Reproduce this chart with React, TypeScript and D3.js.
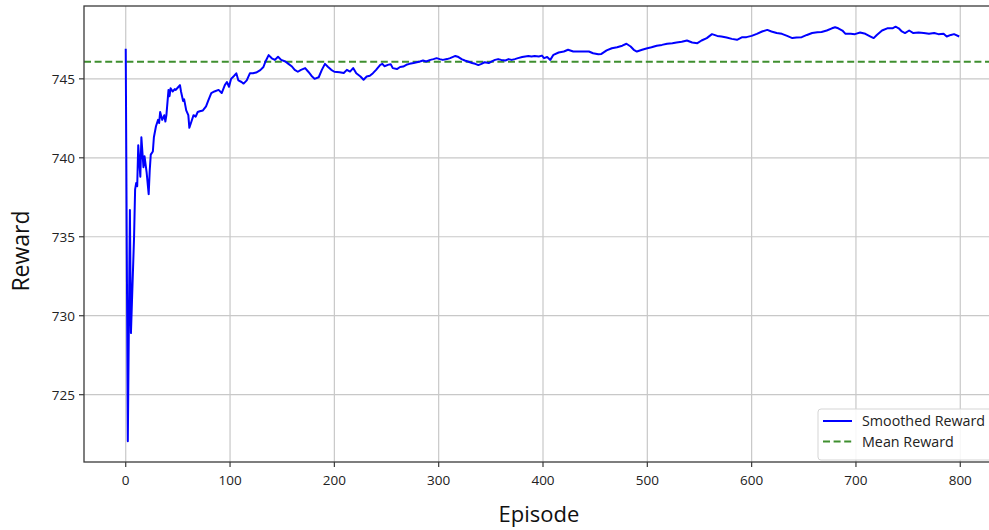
import React from "react";
import * as d3 from "d3";

const episodes = [0, 2, 4, 5, 8, 9, 10, 11, 12, 14, 15, 17, 18, 20, 22, 23, 24, 26, 27, 29, 31, 32, 33, 35, 37, 38, 39, 41, 42, 43, 45, 47, 48, 50, 52, 53, 55, 56, 58, 60, 61, 63, 65, 67, 69, 71, 74, 77, 79, 82, 85, 89, 92, 95, 97, 99, 101, 104, 106, 108, 111, 113, 116, 119, 122, 125, 129, 132, 134, 137, 140, 143, 146, 149, 153, 156, 159, 162, 165, 168, 172, 175, 178, 181, 185, 188, 191, 194, 197, 200, 205, 209, 212, 215, 218, 221, 225, 228, 231, 234, 237, 240, 244, 246, 248, 252, 254, 256, 260, 263, 266, 269, 272, 276, 279, 282, 285, 288, 292, 295, 298, 301, 304, 308, 311, 316, 319, 322, 325, 328, 332, 335, 338, 341, 344, 348, 351, 354, 357, 360, 364, 367, 370, 373, 376, 380, 383, 386, 389, 392, 396, 399, 401, 404, 407, 410, 415, 420, 424, 429, 434, 439, 444, 448, 453, 456, 461, 466, 471, 476, 480, 484, 487, 490, 495, 500, 504, 509, 514, 519, 524, 528, 533, 538, 543, 548, 552, 557, 562, 567, 571, 576, 581, 586, 591, 595, 600, 605, 610, 615, 619, 624, 629, 634, 639, 643, 648, 653, 658, 663, 667, 672, 677, 680, 683, 687, 690, 695, 699, 704, 709, 714, 717, 720, 725, 730, 735, 738, 741, 744, 747, 751, 755, 760, 765, 770, 775, 779, 784, 787, 791, 794, 799];

const smoothedReward = [746.9, 722.05, 736.7, 728.9, 735.0, 738.0, 738.4, 738.2, 740.8, 738.8, 741.3, 739.4, 740.1, 739.1, 737.7, 739.2, 740.2, 740.4, 741.3, 742.0, 742.4, 742.2, 742.9, 742.4, 742.7, 742.3, 742.7, 744.3, 743.9, 744.4, 744.2, 744.35, 744.3, 744.45, 744.6, 744.2, 743.6, 743.7, 743.0, 742.7, 741.9, 742.3, 742.7, 742.6, 742.9, 742.95, 743.0, 743.25, 743.6, 744.1, 744.2, 744.3, 744.1, 744.6, 744.8, 744.5, 745.0, 745.2, 745.35, 744.9, 744.8, 744.7, 744.9, 745.35, 745.35, 745.4, 745.55, 745.75, 746.1, 746.5, 746.3, 746.2, 746.4, 746.2, 746.1, 745.95, 745.8, 745.57, 745.45, 745.57, 745.68, 745.45, 745.2, 745.0, 745.1, 745.57, 745.95, 745.75, 745.57, 745.45, 745.42, 745.37, 745.57, 745.46, 745.68, 745.35, 745.15, 744.94, 745.15, 745.2, 745.36, 745.57, 745.89, 745.95, 745.8, 745.9, 745.93, 745.68, 745.62, 745.75, 745.78, 745.89, 745.95, 746.0, 746.05, 746.1, 746.16, 746.1, 746.2, 746.25, 746.31, 746.25, 746.2, 746.25, 746.31, 746.45, 746.38, 746.25, 746.16, 746.1, 746.0, 745.95, 745.87, 745.95, 746.05, 746.0, 746.1, 746.2, 746.25, 746.2, 746.16, 746.25, 746.2, 746.25, 746.31, 746.38, 746.42, 746.45, 746.42, 746.45, 746.42, 746.47, 746.31, 746.38, 746.2, 746.52, 746.67, 746.73, 746.84, 746.73, 746.73, 746.73, 746.73, 746.62, 746.56, 746.58, 746.8, 746.94, 747.0, 747.1, 747.22, 747.05, 746.84, 746.73, 746.84, 746.94, 747.0, 747.1, 747.15, 747.22, 747.26, 747.3, 747.35, 747.43, 747.3, 747.26, 747.43, 747.58, 747.83, 747.72, 747.68, 747.62, 747.53, 747.47, 747.64, 747.64, 747.72, 747.85, 748.0, 748.1, 748.0, 747.9, 747.85, 747.72, 747.58, 747.62, 747.64, 747.78, 747.9, 747.95, 747.97, 748.06, 748.2, 748.27, 748.2, 748.06, 747.85, 747.85, 747.83, 747.93, 747.85, 747.68, 747.58, 747.78, 748.06, 748.2, 748.2, 748.3, 748.2, 748.0, 747.9, 748.06, 747.9, 747.93, 747.9, 747.85, 747.9, 747.83, 747.85, 747.68, 747.78, 747.83, 747.68];

const meanReward = 746.08;
const xTicks = [0, 100, 200, 300, 400, 500, 600, 700, 800];
const yTicks = [725, 730, 735, 740, 745];
const legendLabels = ["Smoothed Reward", "Mean Reward"];

const W = 989;
const H = 530;
const left = 84;
const right = 1002;
const top = 6;
const bottom = 462;

export default function App() {
  const x = d3.scaleLinear().domain([-40, 840]).range([left, right]);
  const yMin = d3.min(smoothedReward)!;
  const yMax = d3.max(smoothedReward)!;
  const pad = (yMax - yMin) * 0.05;
  const y = d3.scaleLinear().domain([yMin - pad, yMax + pad]).range([bottom, top]);
  const pts = episodes.map((e, i) => [e, smoothedReward[i]] as [number, number]);
  const line = d3.line<[number, number]>().x((d) => x(d[0])).y((d) => y(d[1]));
  const font = "'Open Sans', 'DejaVu Sans', sans-serif";

  return (
    <svg width={W} height={H} style={{ position: "absolute", left: 0, top: 0, background: "#fff" }}>
      <rect x={0} y={0} width={W} height={H} fill="#fff" />
      {xTicks.map((t) => (
        <line key={"gx" + t} x1={x(t)} x2={x(t)} y1={top} y2={bottom} stroke="#c8c8c8" strokeWidth={1.2} />
      ))}
      {yTicks.map((t) => (
        <line key={"gy" + t} x1={left} x2={right} y1={y(t)} y2={y(t)} stroke="#c8c8c8" strokeWidth={1.2} />
      ))}
      <line x1={left} x2={right} y1={y(meanReward)} y2={y(meanReward)} stroke="#3f8f2f" strokeWidth={2} strokeDasharray="7,3.6" />
      <path d={line(pts) || ""} fill="none" stroke="#0000ff" strokeWidth={2} strokeLinejoin="round" />
      <rect x={left} y={top} width={right - left} height={bottom - top} fill="none" stroke="#3a3a3a" strokeWidth={1.3} />
      {xTicks.map((t) => (
        <g key={"tx" + t}>
          <line x1={x(t)} x2={x(t)} y1={bottom} y2={bottom + 5} stroke="#3a3a3a" strokeWidth={1.2} />
          <text x={x(t)} y={bottom + 23} textAnchor="middle" fontSize={13.5} fontFamily={font} fill="#222">{t}</text>
        </g>
      ))}
      {yTicks.map((t) => (
        <g key={"ty" + t}>
          <line x1={left - 5} x2={left} y1={y(t)} y2={y(t)} stroke="#3a3a3a" strokeWidth={1.2} />
          <text x={left - 9} y={y(t) + 5} textAnchor="end" fontSize={13.5} fontFamily={font} fill="#222">{t}</text>
        </g>
      ))}
      <text x={539} y={522} textAnchor="middle" fontSize={22} fontFamily={font} fill="#111">Episode</text>
      <text transform="translate(29,251) rotate(-90)" textAnchor="middle" fontSize={23} fontFamily={font} fill="#111">Reward</text>
      <g>
        <rect x={818} y={409} width={190} height={51} rx={3} fill="#fff" fillOpacity={0.85} stroke="#d5d5d5" strokeWidth={1} />
        <line x1={823} x2={852} y1={421} y2={421} stroke="#0000ff" strokeWidth={2} />
        <text x={862} y={426} fontSize={14.3} fontFamily={font} fill="#222">{legendLabels[0]}</text>
        <line x1={823} x2={852} y1={441.5} y2={441.5} stroke="#3f8f2f" strokeWidth={2} strokeDasharray="7,3.6" />
        <text x={862} y={446.5} fontSize={14.3} fontFamily={font} fill="#222">{legendLabels[1]}</text>
      </g>
    </svg>
  );
}
